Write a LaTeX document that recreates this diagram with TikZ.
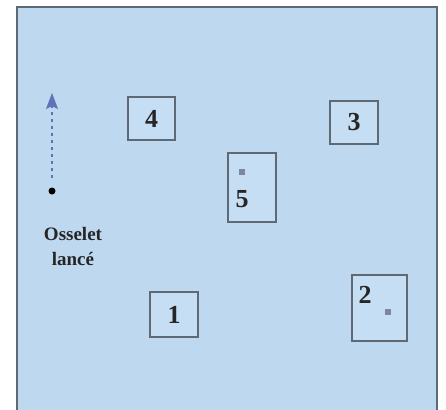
\documentclass[tikz,border=0pt]{standalone}
\usepackage{fontspec}
\setmainfont{Liberation Serif}
\usetikzlibrary{arrows.meta}
\definecolor{bgblue}{RGB}{190,216,240}
\definecolor{boxfill}{RGB}{198,222,243}
\definecolor{framegray}{RGB}{95,105,115}
\definecolor{arrowblue}{RGB}{95,115,185}
\definecolor{dotgray}{RGB}{125,135,155}
\tikzset{
  numbox/.style={draw=framegray, line width=1.3pt, fill=boxfill, inner sep=0pt},
  numtxt/.style={font=\fontsize{26}{26}\selectfont\bfseries, text=black!85, inner sep=0pt},
  smalldot/.style={rectangle, fill=dotgray, inner sep=0pt, minimum size=6pt},
  lbl/.style={font=\fontsize{19}{25}\selectfont\bfseries, text=black!85, align=center, inner sep=0pt}
}
\begin{document}
\begin{tikzpicture}[x=1pt,y=-1pt]
\useasboundingbox (0,0) rectangle (446,409);
\fill[white] (0,0) rectangle (446,409);
\draw[framegray, line width=1.1pt, fill=bgblue] (17,7) rectangle (437,415);
% boxes
\node[numbox, minimum width=47pt, minimum height=43pt] (b4) at (151.5,118.5) {};
\node[numtxt] (t4) at (b4.center) {4};
\node[numbox, minimum width=48pt, minimum height=43pt] (b3) at (354,122.5) {};
\node[numtxt] (t3) at (b3.center) {3};
\node[numbox, minimum width=48pt, minimum height=69pt] (b5) at (252,187.5) {};
\node[numtxt] (t5) at (242,199) {5};
\node[smalldot] (d5) at (242,172) {};
\node[numbox, minimum width=55pt, minimum height=66pt] (b2) at (379.5,308) {};
\node[numtxt] (t2) at (365,295) {2};
\node[smalldot] (d2) at (388,312) {};
\node[numbox, minimum width=48pt, minimum height=45pt] (b1) at (174,314.5) {};
\node[numtxt] (t1) at (b1.center) {1};
% thrown bone
\node[circle, fill=black, inner sep=0pt, minimum size=7pt] (bone) at (52,191) {};
\coordinate (tip) at (52,93);
\coordinate (tail) at (52,178);
\draw[arrowblue, line width=1.3pt, dash pattern=on 3pt off 4pt, -{Stealth[length=16pt, width=12pt, inset=3pt]}] (tail) -- (tip);
\node[lbl] (lab) at (73,246) {Osselet\\lancé};
\end{tikzpicture}
\end{document}
